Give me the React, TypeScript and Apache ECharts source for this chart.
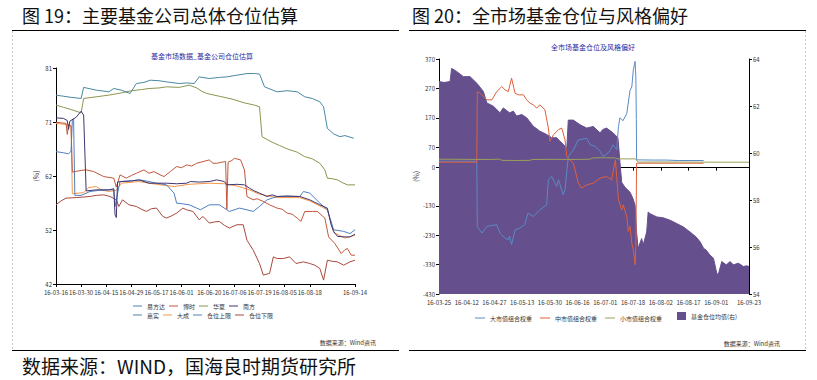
import { useEffect, useRef } from "react";
import * as echarts from "echarts";

const FONT = "'Noto Sans CJK SC', 'Noto Sans', sans-serif";

// ---- Left chart (图19) ----
const leftXTicks = [0, 10, 20, 30, 40, 50, 61, 71, 81, 91, 101, 119];
const leftXLabels = ["16-03-16", "16-03-30", "16-04-15", "16-04-29", "16-05-17", "16-06-01", "16-06-20", "16-07-06", "16-07-19", "16-08-05", "16-08-18", "16-09-14"];
const leftYTicks = [42, 51.75, 61.5, 71.25, 81];

const yiFangDa = [[0,65.9],[3,65.7],[5,65.5],[6,66.0],[6.5,71.5],[7,71.8],[7.5,58.0],[10,58.0],[13.5,58.7],[17,58.9],[21.5,59.0],[23,59.0],[23.5,56.0],[25,59.5],[25.5,60.5],[29,60.6],[33.5,60.8],[37,60.5],[40,60.2],[44,59.9],[47,58.4],[48,56.6],[50,56.5],[53,56.3],[56,55.7],[57.5,55.4],[61,56.3],[65,56.3],[69,55.1],[73,55.7],[76,55.4],[78.5,55.1],[81,56.0],[84,57.2],[88,57.8],[94.5,57.8],[97,57.8],[98.5,58.7],[101,58.4],[105,56.6],[108,55.4],[110.5,51.8],[114.5,51.5],[117,51.1],[119,51.8]];
const boShi = [[0,71.2],[2,71.1],[4,71.0],[4.5,69.0],[5,70.8],[6,70.5],[6.5,62.2],[7.5,62.3],[10,62.5],[12,62.6],[15,62.3],[19,61.4],[23,61.1],[24,59.5],[25.5,61.7],[28,61.1],[30,61.6],[32,62.0],[35,62.6],[37,62.0],[39,62.3],[41,61.8],[43,61.4],[45.5,62.3],[48,63.2],[50,63.0],[52,63.5],[54,63.3],[56,63.8],[58.5,64.1],[61,64.4],[62.5,63.8],[64,63.8],[66,64.0],[67.5,64.1],[68,55.5],[68.5,64.0],[70,64.3],[71,64.7],[73.5,64.4],[75,62.6],[76,57.8],[78.5,57.2],[80,57.4],[82.5,56.9],[85,56.3],[88,55.7],[90,55.5],[92,54.8],[94,54.6],[96,53.9],[97.5,53.3],[99,55.1],[102,55.1],[104,55.1],[107,53.9],[108.5,50.5],[111,49.3],[113.5,47.5],[115,48.2],[116,48.4],[117.5,47.2],[119,47.2]];
const huaXia = [[0,74.3],[3,73.9],[6,73.5],[10,72.9],[11,75.5],[16,75.8],[21,76.1],[26,76.5],[30,76.9],[34,77.1],[37,77.3],[41,77.4],[44,77.6],[49,77.5],[53,77.9],[56,77.4],[58,76.8],[60,76.4],[65,75.9],[70,75.4],[75,74.7],[79,74.3],[81,74.0],[82,68.6],[86,67.6],[89,67.0],[92,66.4],[96,65.8],[99,65.0],[102,64.6],[105,63.8],[107,62.6],[108,61.1],[110,61.0],[112,60.8],[114,60.3],[116,59.9],[119,59.9]];
const nanFang = [[0,72.0],[3,71.9],[4.5,71.5],[5,69.9],[5.5,71.4],[8,72.1],[10,73.2],[11,72.5],[12,58.8],[16,59.0],[21,59.0],[23,59.2],[23.5,54.5],[24,54.0],[24.5,60.4],[26,60.5],[30,60.6],[33,60.8],[37,60.2],[44,60.2],[48,60.1],[52,60.2],[53.5,60.5],[57,60.4],[61,60.5],[64,60.8],[67,60.5],[68,59.9],[72,60.0],[75,59.9],[77,59.3],[79,58.8],[81,58.4],[84,57.8],[86,58.1],[88,57.8],[92,57.9],[97,57.8],[101,57.2],[105,56.3],[108,55.7],[109.5,52.7],[110.5,51.5],[112,50.6],[115,50.5],[117,50.5],[119,51.0]];
const jiaShi = [[0,76.1],[3,75.9],[6,75.7],[10,75.5],[11,77.5],[16,77.0],[21,76.7],[23,77.3],[26,77.0],[29.5,76.4],[32,78.2],[35,78.4],[37.5,78.8],[41,78.7],[44,78.5],[49,78.2],[52,78.3],[55,78.2],[57,79.4],[61,79.1],[65,79.3],[68,79.4],[72,79.7],[76,80.0],[79,80.0],[81,79.9],[83,77.6],[88,76.7],[92,76.9],[96,76.7],[99,75.8],[102,75.5],[105,74.9],[106.5,74.0],[108,70.1],[110.5,69.1],[113,68.6],[115,68.8],[118.5,68.3]];
const daCheng = [[0,71.0],[4,70.8],[6,70.6],[6.5,58.3],[11,58.5],[13,59.4],[16,59.6],[18,59.0],[21,58.7],[24,58.9],[26,60.2],[33,60.5],[40,60.0],[47,59.6],[53,60.0],[61,60.2],[67,60.1],[72,59.7],[77,59.0],[81,58.2],[88,57.6],[97,57.6],[101,57.0],[105,56.1],[108,55.4],[110.5,51.3],[115,50.3],[119,50.8]];
const upperBound: number[][] = [];
const lowerBound = [[0,56.3],[2,57.0],[4,57.5],[8,57.6],[13.5,57.8],[16,58.0],[19,58.1],[21.5,57.8],[24,57.2],[25,56.0],[26.5,57.2],[29,56.3],[32,56.0],[34,55.5],[36,55.1],[38,55.6],[40,55.7],[42.5,54.2],[44,53.9],[46,54.3],[48,54.8],[50.5,55.7],[52,55.4],[54.5,55.1],[57,53.6],[58.5,54.2],[61,53.0],[63,53.2],[65,53.3],[67,52.6],[69,52.1],[72,52.7],[74.5,52.7],[76,49.9],[78.5,48.1],[81,45.7],[82.5,43.6],[84,43.8],[85,43.9],[86.5,46.9],[88,46.6],[90.5,46.6],[93,46.9],[95.5,45.7],[98.5,46.0],[101,45.7],[103,45.4],[105,44.8],[106.5,42.7],[108,46.3],[110,46.1],[112,46.0],[114.5,45.4],[117,46.0],[119,46.3]];

// ---- Right chart (图20) ----
const rightXTicks = [0, 11, 22, 33, 44, 55, 66, 77, 88, 99, 110, 123];
const rightXLabels = ["16-03-25", "16-04-12", "16-04-27", "16-05-13", "16-05-30", "16-06-16", "16-07-01", "16-07-18", "16-08-02", "16-08-17", "16-09-01", "16-09-23"];
const rightLeftYTicks = [370, 270, 170, 70, 0, -130, -230, -330, -430];

const fundPos = [[0,63.04],[2,63.0],[4.4,63.04],[5,63.6],[7,63.47],[9.7,63.25],[12.3,63.25],[15,62.97],[17.6,62.62],[19,62.13],[21.6,61.99],[24.2,61.71],[25.5,61.92],[28,61.71],[29.5,61.78],[30.8,61.57],[32.8,61.64],[34.8,61.5],[37.4,61.14],[40,60.93],[42.7,60.79],[44.7,60.65],[46.7,60.65],[48,60.5],[49.3,60.37],[50.7,60.2],[51.3,61.4],[53.3,61.4],[56,61.2],[58.6,61.06],[61.2,61.13],[63.9,60.86],[65,61.0],[66.5,61.06],[69,60.86],[71,60.65],[71.8,59.6],[72.5,58.75],[73.8,58.54],[75.8,58.33],[77,58.05],[77.8,57.77],[78.4,56.64],[79,55.94],[80.4,56.36],[81,56.08],[82.4,56.64],[83,57.49],[83.7,57.42],[86.4,57.28],[89,57.24],[91.7,57.14],[94.3,57.0],[97,56.85],[99.6,56.64],[102,56.43],[103.6,56.22],[105,55.94],[106,55.87],[107.5,55.66],[108.9,55.52],[110.2,54.89],[110.8,54.82],[112.2,55.38],[114,55.24],[115.5,55.38],[116.8,55.24],[118.8,55.31],[120.8,55.17],[122,55.2],[123,55.17]];
const bigCap = [[0,22],[5,22],[10,22],[15,22],[15.2,-200],[17,-222.7],[19,-200],[22.9,-194],[24.2,-222.7],[26.2,-240],[27.5,-245],[28,-233],[28.8,-262],[30.2,-211],[32,-206],[34,-194],[35.3,-155],[37.4,-166],[40,-143.4],[42.7,-126.4],[43.4,-41.4],[44.7,-30],[46.7,-64],[47.4,-41],[49.3,-92.4],[50,-75],[51.3,38],[53.3,60.6],[55.3,94.6],[58.6,100],[60,78],[62,72.6],[64,55.6],[65,38.7],[66.5,45],[68,60],[69,78],[70.5,61],[71.2,140],[71.8,170],[73,160],[74.5,184],[75.8,263],[76.5,275],[77.1,333],[77.8,361.7],[78.1,311],[78.3,164],[78.4,26.6],[85,26],[90,26],[95,24.4],[100,24.4],[105,24.4]];
const midCap = [[0,18.7],[5,18.7],[10,18.7],[15,18.7],[15.2,259],[16.3,253.5],[19,231],[21,231],[22.9,259],[24.9,276],[26.2,265],[27.5,259],[28.8,304.7],[30.2,253],[31.5,248],[33.5,248],[34.8,231],[36.1,219.7],[37.4,214],[38.8,203],[40,214],[42,197.6],[43.4,135],[44,89.7],[45.4,112],[47.4,129.7],[48.7,135],[50,94.6],[50.7,38],[51.3,32],[53.3,15.3],[55.3,-52.7],[56.6,-69.7],[58.6,-58.4],[61.2,-52.7],[63.9,-35.7],[66.5,-30],[68.5,-41.4],[69.2,-7.4],[70,26.6],[70.5,-30],[71.2,-109.4],[72.5,-143.4],[73.1,-126.4],[74.5,-166],[75.1,-217],[75.8,-200],[76.5,-256.7],[77.1,-279],[77.8,-330],[78.1,-268],[78.4,15.3],[85,15.3],[95,15.3],[105,15.3]];
const smallCap = [[0,29],[10,28.5],[20,28],[24,29],[25,25],[30,24.5],[36,25],[37,28],[45,28.5],[55,28],[60,29],[61,33],[66,34],[70,33],[71,30],[78,30],[79,19],[90,19.5],[100,19],[110,18.7],[123,18.7]];

const labelFmt = (ticks: number[], labels: string[]) => (v: number) => {
  const i = ticks.indexOf(v);
  return i >= 0 ? labels[i] : "";
};

const axisBase = {
  axisLine: { show: true, lineStyle: { color: "#000", width: 1 } },
  axisTick: { show: true, length: 3, lineStyle: { color: "#000" } },
  splitLine: { show: false },
};

const lineS = (name: string, data: number[][], color: string, xi: number, yi: number) => ({
  name, type: "line", data, xAxisIndex: xi, yAxisIndex: yi, symbol: "none",
  lineStyle: { width: 1, color }, itemStyle: { color },
});

export default function App() {
  const ref = useRef<HTMLDivElement>(null);
  useEffect(() => {
    document.body.style.margin = "0";
    const chart = echarts.init(ref.current!, undefined, { renderer: "svg" });
    const lab = { fontSize: 6, color: "#333", fontFamily: FONT };
    const option: any = {
      animation: false,
      backgroundColor: "#fff",
      textStyle: { fontFamily: FONT },
      grid: [
        { left: 56, top: 68, width: 299, height: 216 },
        { left: 439, top: 59, width: 310, height: 235 },
      ],
      xAxis: [
        { ...axisBase, gridIndex: 0, type: "value", min: 0, max: 119,
          axisTick: { ...axisBase.axisTick, customValues: leftXTicks },
          axisLabel: { ...lab, margin: 5, customValues: leftXTicks, formatter: labelFmt(leftXTicks, leftXLabels) } },
        { ...axisBase, gridIndex: 1, type: "value", min: 0, max: 123,
          axisTick: { ...axisBase.axisTick, customValues: rightXTicks },
          axisLabel: { ...lab, margin: 5, customValues: rightXTicks, formatter: labelFmt(rightXTicks, rightXLabels) } },
      ],
      yAxis: [
        { ...axisBase, gridIndex: 0, type: "value", min: 42, max: 81,
          name: "(%)", nameLocation: "middle", nameGap: 17, nameRotate: 90, nameTextStyle: { ...lab, fontSize: 7 },
          axisTick: { ...axisBase.axisTick, customValues: leftYTicks },
          axisLabel: { ...lab, margin: 4, customValues: leftYTicks, formatter: (v: number) => String(Math.round(v)) } },
        { ...axisBase, gridIndex: 1, type: "value", min: -430, max: 370, position: "left",
          name: "(%)", nameLocation: "middle", nameGap: 20, nameRotate: 90, nameTextStyle: { ...lab, fontSize: 7 },
          axisTick: { ...axisBase.axisTick, customValues: rightLeftYTicks },
          axisLabel: { ...lab, margin: 4, customValues: rightLeftYTicks } },
        { ...axisBase, gridIndex: 1, type: "value", min: 54, max: 64, interval: 2, position: "right",
          axisLabel: { ...lab, margin: 4 } },
      ],
      legend: [
        { data: ["易方达", "博时", "华夏", "南方"], left: 133, top: 303, orient: "horizontal", icon: "rect",
          itemWidth: 9, itemHeight: 1, itemGap: 4, padding: 0, textStyle: { ...lab, width: 23 } },
        { data: ["嘉实", "大成", "仓位上限", "仓位下限"], left: 133, top: 312, orient: "horizontal", icon: "rect",
          itemWidth: 9, itemHeight: 1, itemGap: 4, padding: 0, textStyle: { ...lab, width: 23 } },
        { data: [
            { name: "大市值组合权重", icon: "rect", itemStyle: {} },
            { name: "中市值组合权重", icon: "rect" },
            { name: "小市值组合权重", icon: "rect" },
          ],
          left: 475, top: 315, itemWidth: 10, itemHeight: 1, itemGap: 8, padding: 0, textStyle: { ...lab } },
        { data: [{ name: "基金仓位均值(右)", icon: "rect" }],
          left: 677, top: 312, itemWidth: 9, itemHeight: 8, padding: 0, textStyle: { ...lab } },
      ],
      series: [
        lineS("大成", daCheng, "#F79646", 0, 0),
        lineS("仓位上限", upperBound, "#4F81BD", 0, 0),
        lineS("仓位下限", lowerBound, "#A8483E", 0, 0),
        lineS("易方达", yiFangDa, "#4F7FBD", 0, 0),
        lineS("博时", boShi, "#C0573D", 0, 0),
        lineS("华夏", huaXia, "#8E9450", 0, 0),
        lineS("南方", nanFang, "#3F3572", 0, 0),
        lineS("嘉实", jiaShi, "#4A88A2", 0, 0),
        { name: "基金仓位均值(右)", type: "line", data: fundPos, xAxisIndex: 1, yAxisIndex: 2, symbol: "none",
          lineStyle: { width: 1, color: "#654F8D" }, itemStyle: { color: "#654F8D" },
          areaStyle: { color: "#654F8D", opacity: 1, origin: "start" } },
        lineS("大市值组合权重", bigCap, "#5A8AC6", 1, 1),
        lineS("中市值组合权重", midCap, "#E0603A", 1, 1),
        lineS("小市值组合权重", smallCap, "#9AA05A", 1, 1),
      ],
      graphic: [
        { type: "text", x: 22, y: 15, style: { text: "图 19：主要基金公司总体仓位估算", fontSize: 18, fontFamily: FONT, fill: "#111", verticalAlign: "middle" } },
        { type: "text", x: 412, y: 15, style: { text: "图 20：全市场基金仓位与风格偏好", fontSize: 18, fontFamily: FONT, fill: "#111", verticalAlign: "middle" } },
        { type: "line", shape: { x1: 12, y1: 30.5, x2: 399, y2: 30.5 }, style: { stroke: "#000", lineWidth: 1 } },
        { type: "line", shape: { x1: 409, y1: 30.5, x2: 806, y2: 30.5 }, style: { stroke: "#000", lineWidth: 1 } },
        { type: "line", shape: { x1: 12, y1: 350.5, x2: 399, y2: 350.5 }, style: { stroke: "#000", lineWidth: 1 } },
        { type: "line", shape: { x1: 409, y1: 350.5, x2: 806, y2: 350.5 }, style: { stroke: "#000", lineWidth: 1 } },
        { type: "line", shape: { x1: 12.5, y1: 31, x2: 12.5, y2: 350 }, style: { stroke: "#c8c8c8", lineWidth: 1, lineDash: [2, 2] } },
        { type: "line", shape: { x1: 805.5, y1: 31, x2: 805.5, y2: 350 }, style: { stroke: "#c8c8c8", lineWidth: 1, lineDash: [2, 2] } },
        { type: "text", x: 202, y: 56, style: { text: "基金市场数据_基金公司仓位估算", fontSize: 7, fontFamily: FONT, fill: "#2b2ba6", align: "center", verticalAlign: "middle" } },
        { type: "text", x: 593, y: 47, style: { text: "全市场基金仓位及风格偏好", fontSize: 7, fontFamily: FONT, fill: "#2b2ba6", align: "center", verticalAlign: "middle" } },
        { type: "text", x: 376, y: 342, style: { text: "数据来源：Wind资讯", fontSize: 6, fontFamily: FONT, fill: "#333", align: "right", verticalAlign: "middle" } },
        { type: "text", x: 780, y: 343, style: { text: "数据来源：Wind资讯", fontSize: 6, fontFamily: FONT, fill: "#333", align: "right", verticalAlign: "middle" } },
        { type: "text", x: 22, y: 365, style: { text: "数据来源：WIND，国海良时期货研究所", fontSize: 19, fontFamily: FONT, fill: "#111", verticalAlign: "middle" } },
      ],
    };
    chart.setOption(option);
    return () => chart.dispose();
  }, []);
  return <div ref={ref} style={{ width: 817, height: 380 }} />;
}
